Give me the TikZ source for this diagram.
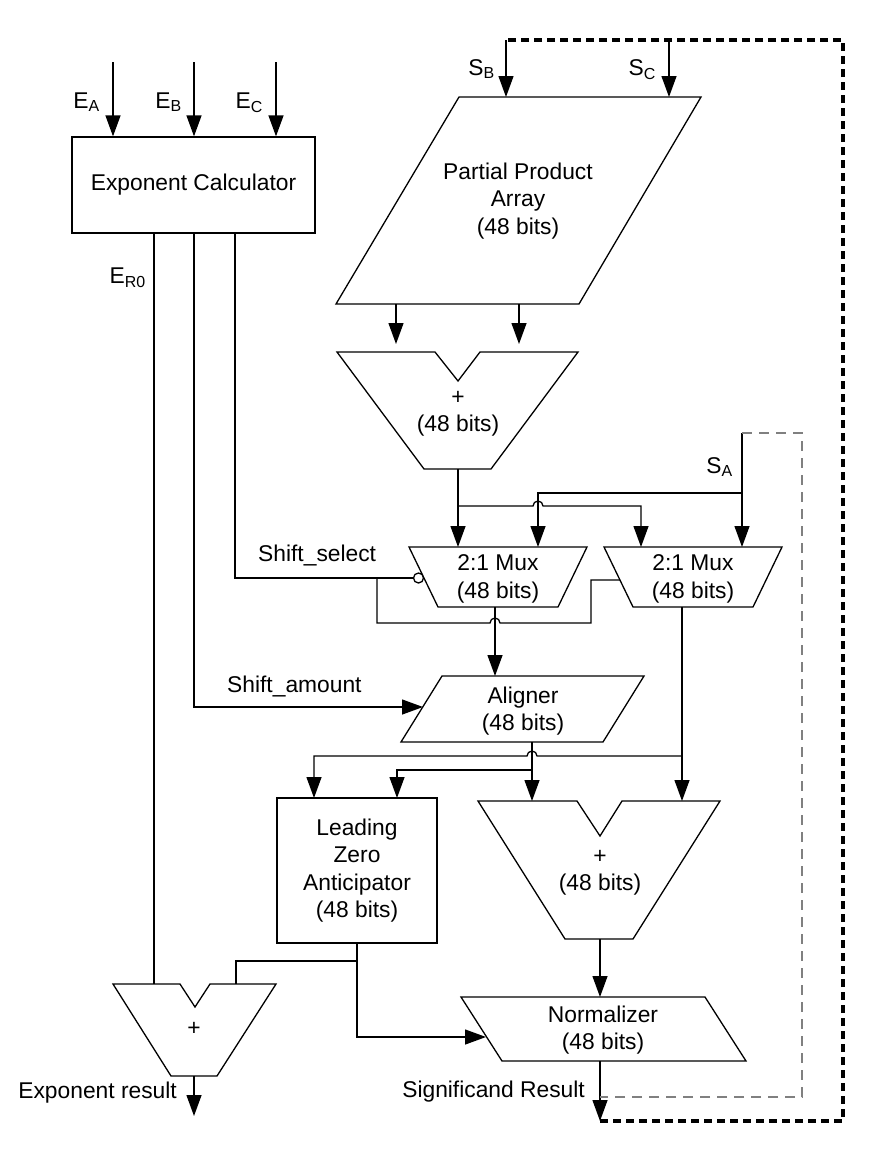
\documentclass[tikz,border=0pt]{standalone}
\usepackage{fontspec}
\setmainfont{Liberation Sans}
\usetikzlibrary{arrows.meta}

\tikzset{
  wire/.style={line width=1.3pt},
  sig/.style={line width=1.3pt, -{Triangle[length=21pt,width=15pt]}},
  block/.style={draw, line width=1.3pt, inner sep=0pt, align=center},
  lbl/.style={inner sep=0pt, align=center},
  bubble/.style={draw, circle, fill=white, line width=1.3pt, minimum size=10pt, inner sep=0pt},
  loopthin/.style={line width=1.3pt, color=gray, dash pattern=on 10pt off 7pt},
  loopthick/.style={line width=3.5pt, dash pattern=on 8pt off 5pt},
}

\begin{document}
\begin{tikzpicture}[x=1pt, y=-1pt, font=\fontsize{22.8}{27.3}\selectfont]
\useasboundingbox (0,0) rectangle (883,1154);

% exponent datapath
\node[block, minimum width=243pt, minimum height=96pt] (expcalc) at (193.5,185) {Exponent Calculator};
\coordinate (ea) at (113,62);
\coordinate (eb) at (194,62);
\coordinate (ec) at (276,62);
\draw[sig] (ea) -- (ea |- expcalc.north);
\draw[sig] (eb) -- (eb |- expcalc.north);
\draw[sig] (ec) -- (ec |- expcalc.north);
\node[lbl, anchor=base east] (ealab) at (100,108) {E\textsubscript{A}};
\node[lbl, anchor=base east] (eblab) at (182,108) {E\textsubscript{B}};
\node[lbl, anchor=base east] (eclab) at (263,108) {E\textsubscript{C}};

% exponent adder
\draw[wire] (113,984) -- (180,984) -- (195,1007) -- (210,984) -- (276,984) -- (217,1076) -- (171,1076) -- cycle;
\node[lbl] (eadd) at (194,1029) {+};
\coordinate (eadd l) at (154,984);
\coordinate (eadd r) at (236,984);
\coordinate (eadd out) at (194,1076);
\coordinate (eres) at (194,1116);
\draw[wire] (eadd l |- expcalc.south) -- (eadd l);
\node[lbl, anchor=base east] (er0lab) at (146,283) {E\textsubscript{R0}};
\draw[sig] (eadd out) -- (eres);
\node[lbl, anchor=base east] (ereslab) at (177,1098) {Exponent result};

% partial product array
\draw[wire] (459,97) coordinate (ppa nw) -- (701,97) -- (579,304) -- (336,304) -- cycle;
\node[lbl] (ppa) at (518,201) {Partial Product\\Array\\(48 bits)};
\coordinate (sb) at (506,40);
\coordinate (sc) at (669,40);
\draw[sig] (sb) -- (sb |- ppa nw);
\draw[sig] (sc) -- (sc |- ppa nw);
\node[lbl, anchor=base east] (sblab) at (495,75) {S\textsubscript{B}};
\node[lbl, anchor=base east] (sclab) at (656,75) {S\textsubscript{C}};

% product adder
\draw[wire] (337,352) -- (435,352) -- (458,381) -- (480,352) -- (578,352) -- (491,469) -- (424,469) -- cycle;
\node[lbl] (add1) at (458,414) {+\\(48 bits)};
\coordinate (ppa o1) at (396,304);
\coordinate (ppa o2) at (519,304);
\coordinate (add1 i1) at (396,344);
\coordinate (add1 i2) at (519,344);
\draw[sig] (ppa o1) -- (add1 i1);
\draw[sig] (ppa o2) -- (add1 i2);

% multiplexers
\draw[wire] (409,547) -- (587,547) -- (558,607) -- (438,607) -- cycle;
\node[lbl] (mux1) at (498,579) {2:1 Mux\\(48 bits)};
\draw[wire] (604,547) -- (782,547) -- (753,607) -- (633,607) -- cycle;
\node[lbl] (mux2) at (693,579) {2:1 Mux\\(48 bits)};
\node[bubble] (m1 bub) at (418.5,578) {};

\coordinate (add1 out) at (458,469);
\coordinate (j1) at (458,506);
\coordinate (m1 i1) at (458,547);
\coordinate (m1 i2) at (538,547);
\coordinate (m2 i1) at (641,547);
\coordinate (m2 i2) at (742,547);
\coordinate (sa) at (742,433);
\coordinate (j2) at (742,493);
\coordinate (hop1) at (m1 i2 |- j1);
\draw[sig] (add1 out) -- (m1 i1);
\draw[sig] (j1) -- ([xshift=-5pt]hop1) arc[start angle=180, end angle=0, radius=5pt] -- (m2 i1 |- j1) -- (m2 i1);
\draw[sig] (sa) -- (m2 i2);
\draw[sig] (j2) -- (m1 i2 |- j2) -- (m1 i2);
\node[lbl, anchor=base east] (salab) at (733,473) {S\textsubscript{A}};

% select lines
\coordinate (ssel) at (235,578);
\coordinate (j3) at (377,578);
\coordinate (sel low) at (591,623);
\coordinate (m1 out) at (495,607);
\coordinate (hop2) at (m1 out |- sel low);
\coordinate (m2 sel) at (620,580);
\draw[wire] (ssel |- expcalc.south) -- (ssel) -- (m1 bub.west);
\draw[wire] (j3) -- (j3 |- sel low) -- ([xshift=-5pt]hop2) arc[start angle=180, end angle=0, radius=5pt] -- (sel low) -- (sel low |- m2 sel) -- (m2 sel);
\node[lbl, anchor=base west] (sellab) at (258,561) {Shift\_select};

% aligner
\draw[wire] (442,676) -- (644,676) -- (603,742) -- (401,742) -- cycle;
\node[lbl] (align) at (523,711) {Aligner\\(48 bits)};
\coordinate (al top) at (495,676);
\coordinate (al in) at (423,707);
\draw[sig] (m1 out) -- (al top);
\draw[sig] (eb |- expcalc.south) -- (eb |- al in) -- (al in);
\node[lbl, anchor=base west] (amtlab) at (227,692) {Shift\_amount};

% leading zero anticipator and adder
\node[block, minimum width=160pt, minimum height=145pt] (lza) at (357,870.5) {Leading\\Zero\\Anticipator\\(48 bits)};
\draw[wire] (478,801) -- (577,801) -- (600,836) -- (622,801) -- (720,801) -- (633,939) -- (565,939) -- cycle;
\node[lbl] (add2) at (600,873) {+\\(48 bits)};
\coordinate (al out) at (532,742);
\coordinate (m2 out) at (682,607);
\coordinate (j4) at (682,756);
\coordinate (j5) at (532,770);
\coordinate (hop3) at (al out |- j4);
\coordinate (add2 i1) at (532,801);
\coordinate (add2 i2) at (682,801);
\coordinate (lza i1) at (314,798);
\coordinate (lza i2) at (397,798);
\draw[sig] (al out) -- (add2 i1);
\draw[sig] (m2 out) -- (add2 i2);
\draw[sig] (j4) -- ([xshift=5pt]hop3) arc[start angle=0, end angle=180, radius=5pt] -- (lza i1 |- j4) -- (lza i1);
\draw[sig] (j5) -- (lza i2 |- j5) -- (lza i2);

% normalizer
\draw[wire] (461,997) -- (705,997) -- (746,1061) -- (502,1061) -- cycle;
\node[lbl] (norm) at (603,1030) {Normalizer\\(48 bits)};
\coordinate (j6) at (357,961);
\coordinate (norm l) at (486,1037);
\coordinate (add2 out) at (600,939);
\coordinate (norm in) at (600,997);
\coordinate (norm out) at (600,1061);
\coordinate (fb a) at (600,1097);
\coordinate (fb b) at (600,1121);
\draw[sig] (add2 out) -- (norm in);
\draw[wire] (j6) -- (eadd r |- j6) -- (eadd r);
\draw[sig] (lza.south) -- (lza.south |- norm l) -- (norm l);
\draw[sig] (norm out) -- (fb b);
\node[lbl, anchor=base east] (sreslab) at (585,1097) {Significand Result};

% feedback loops
\coordinate (dc) at (802,433);
\coordinate (tc) at (843,40);
\draw[loopthin] (sa) -- (dc) -- (dc |- fb a) -- (fb a);
\draw[loopthick] (fb b) -- (tc |- fb b) -- (tc) -- (sb);
\end{tikzpicture}
\end{document}
